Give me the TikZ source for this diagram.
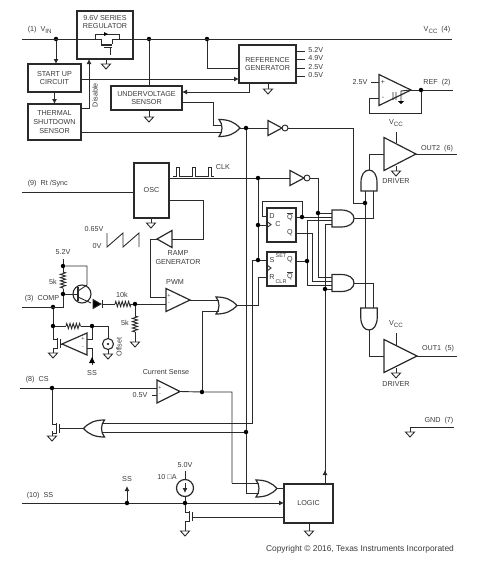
\documentclass[tikz,border=0pt]{standalone}
\usepackage{fontspec}
\setmainfont{Liberation Sans}
\usetikzlibrary{arrows.meta,positioning,shapes.geometric,decorations.pathmorphing}
\definecolor{tinta}{HTML}{3A3A3A}
\definecolor{linea}{HTML}{2A2A2A}
\newcommand{\subind}[1]{\raisebox{-1.4pt}{\fontsize{6.2}{7}\selectfont #1}}

\begin{document}
\begin{tikzpicture}[
    x=1pt, y=-1pt, line width=0.9pt, color=linea,
    every node/.style={font=\fontsize{7.2}{8.6}\selectfont, text=tinta},
    blk/.style={rectangle, draw=linea, line width=1.3pt, inner sep=0pt, outer sep=0pt, align=center},
    punto/.style={circle, fill=black, minimum size=4.5pt, inner sep=0pt, outer sep=0pt},
    amp/.style={isosceles triangle, isosceles triangle stretches, draw=linea, line width=1.2pt, inner sep=0pt, outer sep=0pt, anchor=lower side},
    res/.style={decorate, decoration={zigzag, segment length=3.2pt, amplitude=2.6pt}},
    tipo/.style={-{Latex[length=5pt,width=5pt]}},
    chico/.style={font=\fontsize{5.5}{6}\selectfont, inner sep=0pt},
    gnd/.pic={\draw (0,-5) -- (0,0); \draw (-4.5,0) -- (4.5,0) -- (0,5) -- cycle;},
    fet/.pic={\draw (0,0) -- (4,0) (0,9) -- (4,9); \draw[line width=1.1pt] (4.5,-1) -- (4.5,10); \draw (7,0) -- (7,9);},
    orpic/.pic={
      \draw[line width=1.2pt] (-10.5,-8.5) .. controls (-6.5,-4) and (-6.5,4) .. (-10.5,8.5) .. controls (-1,8.5) and (5,6) .. (10.5,0) .. controls (5,-6) and (-1,-8.5) .. (-10.5,-8.5) -- cycle;
      \coordinate (-w) at (-7.5,0);
      \coordinate (-o) at (10.5,0);},
    andpic/.pic={
      \draw[line width=1.2pt] (-11,-8.5) -- (-2,-8.5) .. controls (6,-8.5) and (11,-5) .. (11,0) .. controls (11,5) and (6,8.5) .. (-2,8.5) -- (-11,8.5) -- cycle;
      \coordinate (-w) at (-11,0);
      \coordinate (-o) at (11,0);},
    invpic/.pic={
      \draw[line width=1.2pt] (-10,-7.5) -- (4,0) -- (-10,7.5) -- cycle;
      \draw (7,0) circle (3);
      \coordinate (-w) at (-10,0);
      \coordinate (-o) at (10,0);}
  ]
  \useasboundingbox (0,0) rectangle (483,563);

  % Top rail and start-up blocks
  \coordinate (vinL) at (22,39);
  \coordinate (vinA) at (95,39);
  \coordinate (vinB) at (119,39);
  \coordinate (vccR) at (452,39);
  \node[anchor=west] (lVin) at (24,30) {(1)\ \ V\subind{IN}};
  \node (lVcc) at (437,30) {V\subind{CC}\ \ (4)};
  \node[blk, minimum width=56pt, minimum height=48pt] (reg) at (105,35) {};
  \node[align=center] (regT) at (105,22) {9.6V SERIES\\REGULATOR};
  \node[blk, minimum width=53pt, minimum height=28pt] (sup) at (54.5,78) {START UP\\CIRCUIT};
  \node[blk, minimum width=53pt, minimum height=36pt] (ths) at (54.5,122) {THERMAL\\SHUTDOWN\\SENSOR};
  \node[blk, minimum width=71pt, minimum height=24pt] (uvs) at (146.5,98) {UNDERVOLTAGE\\SENSOR};
  \node[blk, minimum width=57pt, minimum height=38pt] (rgen) at (267.5,64) {REFERENCE\\GENERATOR};
  \node[punto] (jVin) at (56,39) {};
  \node[punto] (jUvs) at (149,39) {};
  \node[punto] (jGen) at (207,39) {};
  \draw (vinL) -- (vinA) -- (95,34) -- (119,34) -- (vinB) -- (vccR);
  \draw (vinA) -- (101,39) -- (101,44) (vinB) -- (112,39) -- (112,44);
  \draw[line width=1.1pt] (101,45) -- (112,45);
  \draw (104,47.5) -- (112,47.5) (110,47.5) -- (110,55);
  \fill[black] (104,32) -- (108,34) -- (104,36) -- cycle;
  \draw[tipo] (jVin) -- (jVin |- sup.north);
  \draw[tipo] (sup) -- (ths);
  \draw[tipo] (ths.east |- 0,108) -| (reg.south -| 89,0);
  \draw[tipo] (sup.east |- 0,79) -- (rgen.west |- 0,79);
  \draw (jUvs) -- (jUvs |- uvs.north);
  \draw (jGen) |- (rgen.west |- 0,68);
  \draw[tipo] (249,83) |- (uvs.east |- 0,92);
  \pic at (106,64) {gnd};
  \pic at (149,117) {gnd};
  \draw (149,110) -- (149,112);
  \pic at (268,89) {gnd};
  \draw (268,83) -- (268,84);
  \node[rotate=90] (lDis) at (95,95) {Disable};
  % Reference outputs
  \foreach \nm/\yy/\tx in {a/51/5.2V, b/59/4.9V, c/68/2.5V, d/76/0.5V} {
    \node[anchor=west, inner sep=0pt] (r\nm) at (308,\yy-0.5) {\tx};
    \draw (rgen.east |- 0,\yy) -- (305,\yy);
  }

  % Reference amplifier
  \node[amp, minimum width=31pt, minimum height=32pt] (aref) at (379,90) {};
  \node[chico, font=\fontsize{7}{7}\selectfont] (apl) at (383,82) {+};
  \node[chico, font=\fontsize{7}{7}\selectfont] (ami) at (383,98) {-};
  \node[anchor=east, inner sep=0pt] (l25) at (368,82) {2.5V};
  \draw (371,82) -- (379,82);
  \node[punto] (jRef) at (421,90) {};
  \coordinate (refR) at (453,90);
  \node (lRef) at (437,83) {REF\ \ (2)};
  \draw (aref.apex) -- (jRef) -- (refR);
  \draw (jRef) |- (369,113) |- (379,98);
  \draw (410,90) -- (401,91) -- (401,101) (393,92) -- (393,100) (396,92) -- (396,100);
  \fill[black] (398,101) -- (404,101) -- (401,104) -- cycle;

  % Fault gate and inverter
  \pic (orF) at (229.5,128) {orpic};
  \node[punto] (jFlt) at (246,128) {};
  \pic (notF) at (278,128) {invpic};
  \draw (uvs.east |- 0,102) -| (213,125) -- (orF-w |- 0,125);
  \draw (ths.east |- 0,132) -- (orF-w |- 0,132);
  \draw (orF-o) -- (jFlt) -- (notF-w);

  % Oscillator and ramp
  \node[anchor=west] (lRt) at (24,184) {(9)\ \ Rt /Sync};
  \coordinate (rtL) at (22,192);
  \node[blk, minimum width=35pt, minimum height=55pt] (osc) at (151.5,190.5) {OSC};
  \draw (rtL) -- (osc.west |- rtL);
  \pic at (151,223) {gnd};
  \node (lClk) at (223,167) {CLK};
  \draw (173,176) -- (176,176) -- (176,167) -- (179,167) -- (179,176) -- (192,176) -- (192,167) -- (195,167) -- (195,176) -- (208,176) -- (208,167) -- (211,167) -- (211,176) -- (214,176);
  \node[punto] (jClk) at (258,178) {};
  \pic (notC) at (300,178) {invpic};
  \draw (osc.east |- jClk) -- (jClk) -- (notC-w);
  \node[amp, shape border rotate=180, minimum width=17pt, minimum height=15pt] (ramp) at (172,239) {};
  \draw (osc.east |- 0,200) -| (203,239) -- (ramp.lower side);
  \node[align=center] (lRamp) at (178,257.5) {RAMP\\GENERATOR};
  \node (l065) at (94,229) {0.65V};
  \node (l0v) at (97,246) {0V};
  \draw (107,233) -- (107,247) -- (123,233) -- (123,247) -- (139,233) -- (139,247);

  % PWM comparator and error amplifier
  \node[amp, minimum width=23pt, minimum height=24pt] (pwm) at (166,300) {};
  \node (lPwm) at (175,282) {PWM};
  \node[chico] (pwmP) at (169,296) {+};
  \node[chico] (pwmM) at (169,304) {-};
  \draw (ramp.apex) -| (150,297) -- (pwm.lower side |- 0,297);
  \pic (orP) at (226.5,305.5) {orpic};
  \draw (pwm.apex) -- (orP-w |- pwm.apex);
  \node[anchor=west] (lComp) at (21,299) {(3)\ \ COMP};
  \coordinate (compL) at (22,307);
  \node (l52) at (63,252) {5.2V};
  \node[punto] (j52) at (63,266) {};
  \node[punto] (jBase) at (63,294) {};
  \node[punto] (jComp) at (53,307) {};
  \node[circle, draw=linea, line width=1.1pt, minimum size=18pt, inner sep=0pt] (qn) at (82,294) {};
  \draw (63,259) -- (j52);
  \coordinate (rTop) at (63,272);
  \coordinate (rBot) at (63,289);
  \draw (j52) -- (rTop) (rBot) -- (jBase);
  \draw[res] (rTop) -- (rBot);
  \node (l5k) at (53,282) {5k};
  \draw (compL) -- (63,307) -- (jBase) -- (78,294);
  \draw[line width=1.1pt] (78,287) -- (78,301);
  \draw (78,291) -- (87,285) -- (87,266) -- (j52);
  \draw (78,297) -- (91,303);
  \draw[fill=black] (93,299.5) -- (101,304) -- (93,308.5) -- cycle;
  \draw (102,300) -- (102,308);
  \node[punto] (j10k) at (135,304) {};
  \coordinate (r10a) at (115,304);
  \coordinate (r10b) at (131,304);
  \draw (102,304) -- (r10a) (r10b) -- (j10k) -- (pwm.lower side |- j10k);
  \draw[res] (r10a) -- (r10b);
  \node (l10k) at (122,295) {10k};
  \coordinate (r5a) at (135,316);
  \coordinate (r5b) at (135,332);
  \draw (j10k) -- (r5a) (r5b) -- (135,342);
  \draw[res] (r5a) -- (r5b);
  \node (l5kb) at (125,323) {5k};
  \pic at (135,342) {gnd};
  % Offset stage
  \node[punto] (jFb) at (53,326) {};
  \node[punto] (jOff) at (92,326) {};
  \coordinate (rfa) at (66,326);
  \coordinate (rfb) at (81,326);
  \draw (jComp) -- (jFb) -- (rfa) (rfb) -- (jOff) -| (108,338);
  \draw[res] (rfa) -- (rfb);
  \node[amp, shape border rotate=180, minimum width=22pt, minimum height=25pt] (aoff) at (87,344) {};
  \node[chico] (aofP) at (83,339) {+};
  \node[chico] (aofM) at (83,348) {-};
  \draw (jOff) |- (87,339);
  \draw (87,348) -- (92,348) -- (92,365);
  \fill[black] (92,357) -- (95,363) -- (89,363) -- cycle;
  \node (lSsa) at (92,373) {SS};
  \node[circle, draw=linea, line width=1.1pt, minimum size=11pt, inner sep=0pt] (off) at (108,344) {};
  \fill[black] (off) circle (1.2);
  \pic at (108,354) {gnd};
  \node[rotate=90] (lOff) at (119,347) {Offset};
  \draw (jFb) -- (53,339);
  \pic at (53,339) {fet};
  \draw (53,348) -- (53,353);
  \pic at (53,353) {gnd};
  \draw (aoff.apex) -- (60,344);

  % Current sense
  \node[anchor=west] (lCs) at (22,380) {(8)\ \ CS};
  \coordinate (csL) at (20,388);
  \node[punto] (jCs) at (52,388) {};
  \node[amp, minimum width=23pt, minimum height=23pt] (acs) at (157,391.5) {};
  \node (lSense) at (166,372) {Current Sense};
  \node[chico] (acsP) at (160,388) {+};
  \node[chico] (acsM) at (160,395) {-};
  \node[anchor=east, inner sep=0pt] (l05) at (148,395.5) {0.5V};
  \draw (152,395) -- (157,395);
  \draw (csL) -- (jCs) -- (acs.lower side |- jCs);
  \node[punto] (jSense) at (202,392) {};
  \draw (acs.apex) -- (jSense) -| (232,483);
  \draw (jSense) |- (orP-w |- 0,311);
  \pic[rotate=180] (orS) at (94,428.5) {orpic};
  \node[punto] (jFlb) at (246,432) {};
  \draw (jCs) -- (52,424);
  \pic at (52,424) {fet};
  \draw (52,433) -- (52,436);
  \pic at (52,436) {gnd};
  \draw (orS-o) -- (59,428.5);

  % Flip-flops
  \node[blk, minimum width=29pt, minimum height=34pt] (ffc) at (281.5,225) {};
  \node[blk, minimum width=29pt, minimum height=34pt] (ffs) at (281.5,269) {};
  \foreach \nm/\xx/\yy/\tx in {d/272/216/D, qb/290/217/$\overline{\mathrm{Q}}$, c/278/224/C, q/290/233/Q, s/272/260/S, qs/290/260/Q, r/272/277/R, qr/290/276/$\overline{\mathrm{Q}}$} {
    \node[inner sep=0pt] (t\nm) at (\xx,\yy) {\tx};
  }
  \node[chico] (tset) at (281,256) {SET};
  \node[chico] (tclr) at (281,282) {CLR};
  \draw (267,221.5) -- (271,224.5) -- (267,227.5);
  \draw (267,265) -- (271,268) -- (267,271);
  \node[punto] (jC) at (258,225) {};
  \node[punto] (jS) at (258,260) {};
  \node[punto] (jD) at (302,217) {};
  \draw (jClk) -- (jC) -- (jS) -- (ffs.west |- jS);
  \draw (jC) -- (ffc.west |- jC);
  \draw (jFlt) -- (jFlb) |- (256,493);
  \draw (jS) -- (252,260) |- (orS-w |- 0,423);
  \draw (orS-w |- 0,432) -- (jFlb);
  \draw (orP-o) -| (258,277) -- (ffs.west |- 0,277);
  \draw (ffc.west |- 0,216) -| (262,201) -| (jD);

  % Output logic
  \pic (andU) at (343,218.5) {andpic};
  \pic (andL) at (343,283) {andpic};
  \node[punto] (jCq) at (318,213) {};
  \node[punto] (jSq) at (307,261) {};
  \node[punto] (jLgc) at (325,289) {};
  \draw (notC-o) -| (jCq) |- (andL-w |- 0,277);
  \draw (jCq) -- (jCq -| andU-w);
  \draw (ffc.east |- jD) -- (jD) -- (jD -| andU-w);
  \draw (ffc.east |- 0,233) -| (312,281) -- (andL-w |- 0,281);
  \draw (andU-w |- 0,220.5) -| (jSq) |- (andL-w |- 0,285.5);
  \draw (ffs.east |- jSq) -- (jSq);
  \draw (andU-w |- 0,224) -| (jLgc);
  \draw (jLgc) -- (jLgc -| andL-w);

  % Drivers
  \pic[rotate=90, xscale=0.95, yscale=0.94] (drvA) at (369,180.5) {andpic};
  \pic[rotate=-90, xscale=1, yscale=0.97] (drvB) at (369,319) {andpic};
  \node[punto] (jDrv) at (365,203) {};
  \draw (notF-o) -| (353,203) -- (jDrv);
  \draw (drvA-w -| jDrv) -- (jDrv) -- (drvB-w -| jDrv);
  \draw (andU-o) -| (drvA-w -| 373,0);
  \draw (andL-o) -| (drvB-w -| 373,0);
  \node[amp, minimum width=33pt, minimum height=32pt] (dr2) at (384,154) {};
  \node[amp, minimum width=33pt, minimum height=33pt] (dr1) at (384,356) {};
  \draw (drvA-o) |- (dr2.lower side);
  \draw (drvB-o) |- (dr1.lower side);
  \coordinate (o2R) at (457,154);
  \coordinate (o1R) at (457,356);
  \draw (dr2.apex) -- (o2R);
  \draw (dr1.apex) -- (o1R);
  \node (lOut2) at (437,148.5) {OUT2\ \ (6)};
  \node (lOut1) at (438,349) {OUT1\ \ (5)};
  \node (lVa) at (396,123) {V\subind{CC}};
  \node (lVb) at (396,324) {V\subind{CC}};
  \draw (396,132) -- (396,143) (396,333) -- (396,345);
  \pic at (396,171) {gnd};
  \pic at (396,373) {gnd};
  \node (lDa) at (396,181) {DRIVER};
  \node (lDb) at (396,384) {DRIVER};
  \coordinate (gndR) at (454,427);
  \coordinate (gndL) at (410,427);
  \draw (gndR) -- (gndL);
  \pic at (410,432) {gnd};
  \node (lGnd) at (439,421) {GND\ \ (7)};

  % Soft start and logic block
  \node[anchor=west] (lSs) at (23,496) {(10)\ \ SS};
  \coordinate (ssL) at (22,503);
  \node[blk, minimum width=49pt, minimum height=39pt] (lgc) at (308.5,503.5) {LOGIC};
  \node[punto] (jSs) at (127,503) {};
  \node[punto] (jSrc) at (185,503) {};
  \draw[tipo] (ssL) -- (jSs) -- (jSrc) -- (lgc.west |- jSrc);
  \coordinate (ssUp) at (127,486);
  \draw[tipo] (jSs) -- (ssUp);
  \node (lSsb) at (127,479) {SS};
  \node[circle, draw=linea, line width=1.2pt, minimum size=17pt, inner sep=0pt] (src) at (185,488) {};
  \draw[tipo] (185,483) -- (185,493);
  \draw (src) -- (jSrc);
  \node (l50) at (185,465) {5.0V};
  \draw (185,471) -- (src);
  \node (l10) at (167,477) {10 □A};
  \draw (jSrc) -- (185,512);
  \pic at (185,512) {fet};
  \draw (185,521) -- (185,526);
  \pic at (185,531) {gnd};
  \draw (192,517) -- (lgc.west |- 0,517);
  \pic (orL) at (266.5,488.5) {orpic};
  \draw (232,483) -- (orL-w |- 0,483);
  \draw (246,493) -- (orL-w |- 0,493);
  \draw (orL-o) -- (lgc.west |- orL-o);
  \pic at (309,531) {gnd};
  \draw (309,523) -- (309,526);
  \draw[tipo] (325,484) -- (325,470);
  \draw (325,472) -- (jLgc);
  \node[font=\fontsize{8.4}{10}\selectfont] (lCopy) at (360,549) {Copyright © 2016, Texas Instruments Incorporated};
\end{tikzpicture}
\end{document}
